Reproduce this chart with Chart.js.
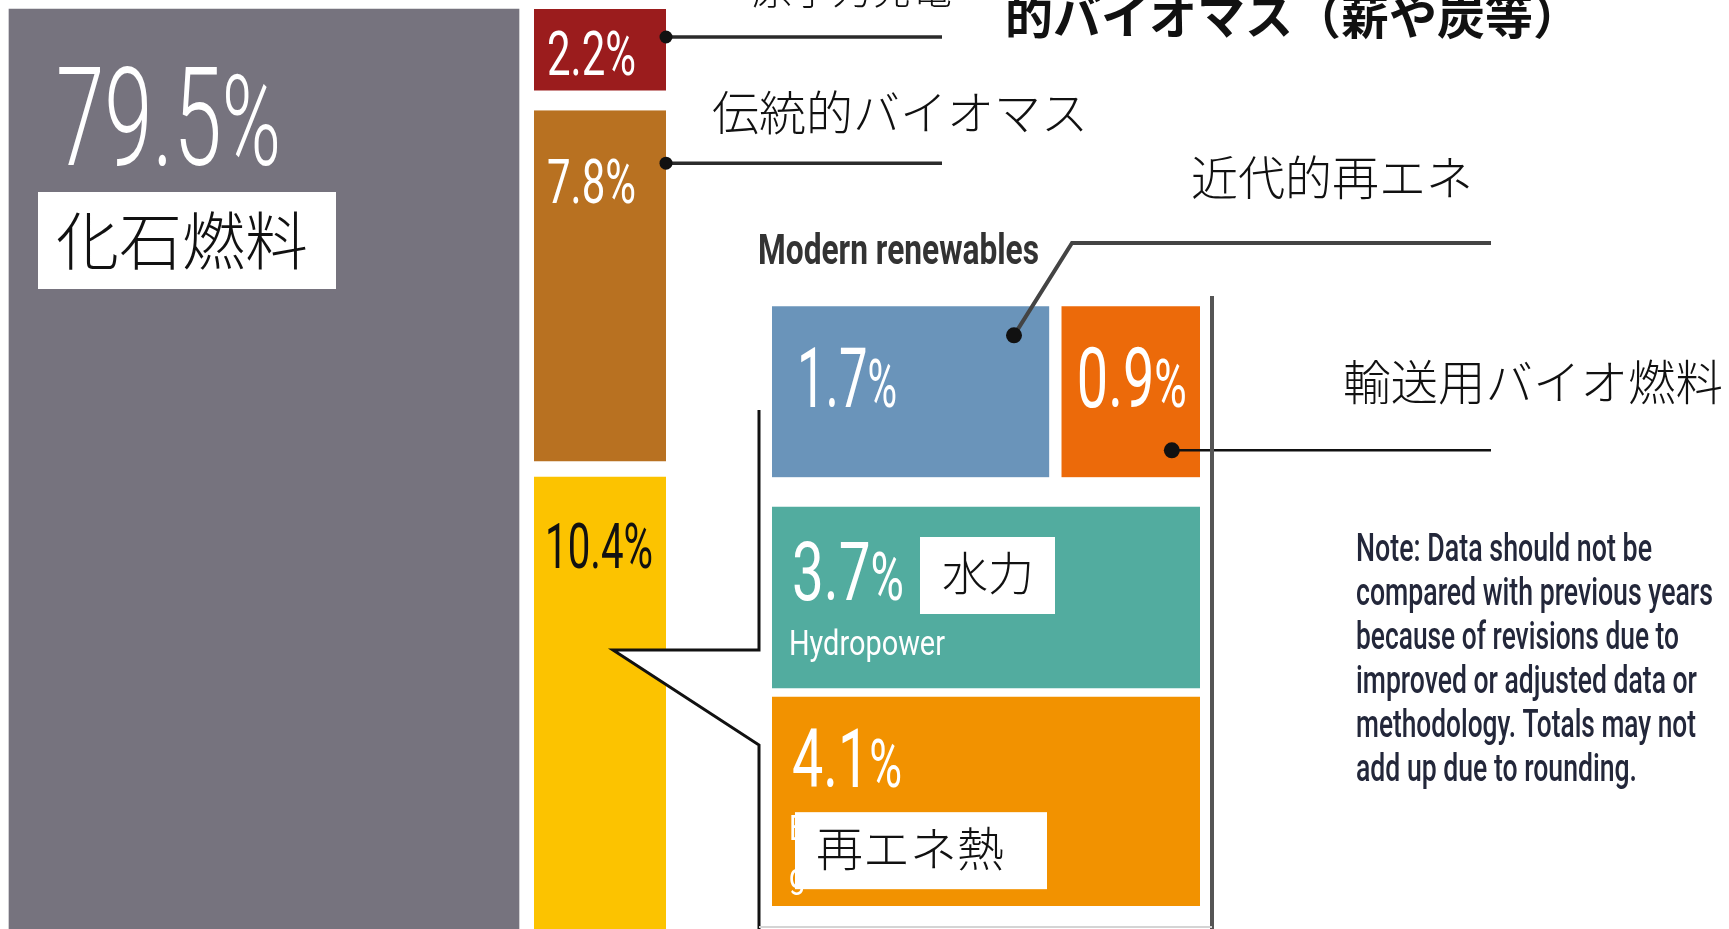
<!DOCTYPE html>
<html lang="ja">
<head>
<meta charset="utf-8">
<title>最終エネルギー消費に占める再エネの割合</title>
<script src="https://cdn.jsdelivr.net/npm/chart.js@4.4.1/dist/chart.umd.min.js"></script>
<style>
html, body { margin: 0; padding: 0; background: #fff; }
#wrap { position: relative; width: 1729px; height: 929px; overflow: hidden; }
#wrap canvas { position: absolute; left: 0; top: 0; }
</style>
</head>
<body>
<div id="wrap">
  <canvas id="mainChart" width="1729" height="929"></canvas>
  <canvas id="modernChart" width="1729" height="929"></canvas>
</div>
<script>
// 最終エネルギー消費の内訳 (%)
var mainCats = ['化石燃料', '非化石'];
var fossilShare = [79.5];
var otherNames = ['原子力発電', '伝統的バイオマス', '近代的再エネ'];
var otherShares = [2.2, 7.8, 10.4];

// 近代的再エネの内訳 (%)
var modernRowNames = ['発電・輸送', '水力', '熱'];
var modernNames = ['Wind/solar/biomass/geothermal/ocean power', '輸送用バイオ燃料', '水力', '再エネ熱'];
var modernShares = [1.7, 0.9, 3.7, 4.1];
var modernRows = [0, 0, 1, 2];

var noteLines = [
  'Note: Data should not be',
  'compared with previous years',
  'because of revisions due to',
  'improved or adjusted data or',
  'methodology. Totals may not',
  'add up due to rounding.'
];

// styles
var fossilColor = '#76737e';
var otherColors = ['#9b1c1d', '#b87121', '#fcc300'];
var otherGaps = [{bottom: 20}, {bottom: 8}, {top: 8}];
var modernColors = ['#6a94ba', '#ec6a0a', '#52ac9f', '#f29200'];
var modernThick = [171, 171, 181, 212];
var modernGaps = [{right: 3}, {left: 10}, 0, 0];

var JP = "'Noto Sans CJK JP', 'Noto Sans', sans-serif";
var NUM = "Roboto, 'Liberation Sans', sans-serif";

function barBox(chart, ds, i) {
  var p = chart.getDatasetMeta(ds).data[i].getProps(['x', 'y', 'base', 'width', 'height', 'horizontal'], true);
  if (p.horizontal) {
    return { left: Math.min(p.x, p.base), right: Math.max(p.x, p.base), top: p.y - p.height / 2, bottom: p.y + p.height / 2 };
  }
  return { left: p.x - p.width / 2, right: p.x + p.width / 2, top: Math.min(p.y, p.base), bottom: Math.max(p.y, p.base) };
}

// condensed text, squeezed to a width
function narrow(ctx, text, x, y, w, font, color) {
  ctx.save();
  ctx.font = font;
  ctx.fillStyle = color;
  ctx.textAlign = 'left';
  ctx.textBaseline = 'alphabetic';
  var m = ctx.measureText(text).width;
  ctx.translate(x, y);
  ctx.scale(w / m, 1);
  ctx.fillText(text, 0, 0);
  ctx.restore();
}

function narrowK(ctx, text, x, y, k, font, color) {
  ctx.save();
  ctx.font = font;
  ctx.fillStyle = color;
  ctx.textAlign = 'left';
  ctx.textBaseline = 'alphabetic';
  ctx.translate(x, y);
  ctx.scale(k, 1);
  ctx.fillText(text, 0, 0);
  ctx.restore();
}

// number + percent sign (pc = size ratio of the sign), squeezed to a width
function pctLabel(ctx, v, x, y, w, size, weight, color, pc) {
  var num = v.toFixed(1);
  var f1 = weight + ' ' + size + 'px ' + NUM;
  var f2 = weight + ' ' + Math.round(size * (pc || 1)) + 'px ' + NUM;
  ctx.save();
  ctx.fillStyle = color;
  ctx.textAlign = 'left';
  ctx.textBaseline = 'alphabetic';
  ctx.font = f1;
  var a = ctx.measureText(num).width;
  ctx.font = f2;
  var b = ctx.measureText('%').width;
  ctx.translate(x, y);
  ctx.scale(w / (a + b), 1);
  ctx.font = f1;
  ctx.fillText(num, 0, 0);
  ctx.font = f2;
  ctx.fillText('%', a, 0);
  ctx.restore();
}

// japanese label, y = bottom of glyphs
function jp(ctx, text, x, bottom, size, weight) {
  ctx.save();
  ctx.font = (weight || 300) + ' ' + size + 'px ' + JP;
  ctx.fillStyle = '#111';
  ctx.textAlign = 'left';
  ctx.textBaseline = 'alphabetic';
  ctx.fillText(text, x, bottom - 0.07 * size);
  ctx.restore();
}

function whiteBox(ctx, x, y, w, h) {
  ctx.fillStyle = '#fff';
  ctx.fillRect(x, y, w, h);
}

function dot(ctx, x, y, r, c) {
  ctx.beginPath();
  ctx.arc(x, y, r, 0, Math.PI * 2);
  ctx.fillStyle = c;
  ctx.fill();
}

function line(ctx, pts, w, c) {
  ctx.save();
  ctx.beginPath();
  ctx.moveTo(pts[0][0], pts[0][1]);
  for (var i = 1; i < pts.length; i++) ctx.lineTo(pts[i][0], pts[i][1]);
  ctx.lineWidth = w;
  ctx.strokeStyle = c;
  ctx.lineJoin = 'miter';
  ctx.stroke();
  ctx.restore();
}

var mainDecor = {
  id: 'mainDecor',
  afterDatasetsDraw: function (chart) {
    var ctx = chart.ctx;
    var g = barBox(chart, 0, 0);
    var r = barBox(chart, 1, 1);
    var b = barBox(chart, 2, 1);
    var y = barBox(chart, 3, 1);

    pctLabel(ctx, fossilShare[0], g.left + 47, g.top + 156, 225, 138, 300, '#fff', 0.92);
    whiteBox(ctx, g.left + 29, g.top + 183, 298, 97);
    jp(ctx, mainCats[0], g.left + 47, g.top + 259, 63);

    pctLabel(ctx, otherShares[0], r.left + 13, r.top + 66, 89, 62, 400, '#fff');
    pctLabel(ctx, otherShares[1], b.left + 13, b.top + 93, 89, 62, 400, '#fff');
    pctLabel(ctx, otherShares[2], y.left + 11, y.top + 99, 108, 63, 400, '#111');

    // leader lines
    var ry = r.top + 28, by = b.top + 53;
    line(ctx, [[r.right, ry], [942, ry]], 3.5, '#2b2b2b');
    line(ctx, [[b.right, by], [942, by]], 3.5, '#2b2b2b');
    dot(ctx, r.right, ry, 6.5, '#111');
    dot(ctx, b.right, by, 6.5, '#111');

    jp(ctx, otherNames[0], 752, 7, 40);
    jp(ctx, '的バイオマス（薪や炭等）', 1005, 37, 48, 700);
    jp(ctx, otherNames[1], 712, 133, 47);

    // callout from the 10.4% bar
    ctx.save();
    ctx.beginPath();
    ctx.moveTo(613, 650);
    ctx.lineTo(759, 650);
    ctx.lineTo(759, 745);
    ctx.closePath();
    ctx.fillStyle = '#fff';
    ctx.fill();
    ctx.restore();
    line(ctx, [[759, 410], [759, 650], [613, 650], [759, 745], [759, 935]], 3, '#111');
  }
};

var mainSets = [{
  label: mainCats[0],
  data: [fossilShare[0], null],
  backgroundColor: fossilColor,
  barThickness: 510,
  clip: false
}];
otherShares.forEach(function (v, i) {
  mainSets.push({
    label: otherNames[i],
    data: [null, v],
    backgroundColor: otherColors[i],
    borderColor: '#fff',
    borderWidth: otherGaps[i],
    borderSkipped: false,
    barThickness: 132
  });
});

new Chart(document.getElementById('mainChart'), {
  type: 'bar',
  data: { labels: mainCats, datasets: mainSets },
  options: {
    responsive: false,
    animation: false,
    events: [],
    layout: { padding: { left: 96, right: 961, top: 9, bottom: 0 } },
    plugins: { legend: { display: false }, tooltip: { enabled: false } },
    scales: {
      x: { stacked: true, display: false },
      y: { stacked: true, display: false, reverse: true, min: 0, max: 20 }
    }
  },
  plugins: [mainDecor]
});

var modernDecor = {
  id: 'modernDecor',
  afterDatasetsDraw: function (chart) {
    var ctx = chart.ctx;
    var bl = barBox(chart, 0, 0);
    var o9 = barBox(chart, 1, 0);
    var t = barBox(chart, 2, 1);
    var o4 = barBox(chart, 3, 2);
    var white = '#fff';

    pctLabel(ctx, modernShares[0], bl.left + 25, bl.top + 101, 100, 83, 400, white, 0.8);
    pctLabel(ctx, modernShares[1], o9.left + 25, o9.top + 101, 110, 83, 400, white, 0.8);
    pctLabel(ctx, modernShares[2], t.left + 20, t.top + 93, 112, 82, 400, white, 0.8);
    pctLabel(ctx, modernShares[3], o4.left + 20, o4.top + 90, 110, 82, 400, white, 0.8);

    // condensed latin labels
    ctx.font = '400 35px ' + NUM;
    var k = 156 / ctx.measureText('Hydropower').width;
    narrowK(ctx, 'Hydropower', t.left + 17, t.top + 148, k, '400 35px ' + NUM, white);
    narrowK(ctx, 'Biomass/solar/', o4.left + 17, o4.top + 143, k, '400 35px ' + NUM, white);
    narrowK(ctx, 'geothermal heat', o4.left + 17, o4.top + 191, k, '400 35px ' + NUM, white);

    whiteBox(ctx, t.left + 148, t.top + 30, 135, 77);
    jp(ctx, modernNames[2], t.left + 170, t.top + 86, 46);
    whiteBox(ctx, o4.left + 23, o4.top + 115, 252, 77);
    jp(ctx, modernNames[3], o4.left + 44, o4.top + 172, 47);

    narrow(ctx, 'Modern renewables', 758, 264, 281, '700 42px ' + NUM, '#333');

    // leader lines
    var bx = bl.left + 242, byy = bl.top + 29;
    line(ctx, [[bx, byy], [1072, 243], [1491, 243]], 4, '#444');
    dot(ctx, bx, byy, 8, '#111');
    var ox = o9.left + 120, oy = o9.top + 144;
    line(ctx, [[ox, oy], [1491, oy]], 2.5, '#111');
    dot(ctx, ox, oy, 8, '#111');

    line(ctx, [[1212, 296], [1212, 935]], 4, '#555');
    line(ctx, [[759, 927], [1212, 927]], 2, '#d4d4d4');

    jp(ctx, otherNames[2], 1191, 198, 47);
    jp(ctx, modernNames[1], 1343, 403, 47.5);

    // note
    var noteW = [296, 357, 323, 341, 340, 281];
    noteLines.forEach(function (s, i) {
      narrow(ctx, s, 1356, 561 + 44 * i, noteW[i], '500 38px ' + NUM, '#23273a');
    });
  }
};

var rowTotals = modernRowNames.map(function () { return 0; });
modernShares.forEach(function (v, i) { rowTotals[modernRows[i]] += v; });

var modernSets = modernShares.map(function (v, i) {
  var d = modernRowNames.map(function () { return null; });
  d[modernRows[i]] = v / rowTotals[modernRows[i]];
  return {
    label: modernNames[i],
    data: d,
    backgroundColor: modernColors[i],
    borderColor: '#fff',
    borderWidth: modernGaps[i],
    borderSkipped: false,
    barThickness: modernThick[i]
  };
});

new Chart(document.getElementById('modernChart'), {
  type: 'bar',
  data: { labels: modernRowNames, datasets: modernSets },
  options: {
    indexAxis: 'y',
    responsive: false,
    animation: false,
    events: [],
    layout: { padding: { left: 772, right: 529, top: 289, bottom: 23 } },
    plugins: { legend: { display: false }, tooltip: { enabled: false } },
    scales: {
      x: { stacked: true, display: false, min: 0, max: 1 },
      y: { stacked: true, display: false }
    }
  },
  plugins: [modernDecor]
});
</script>
</body>
</html>
